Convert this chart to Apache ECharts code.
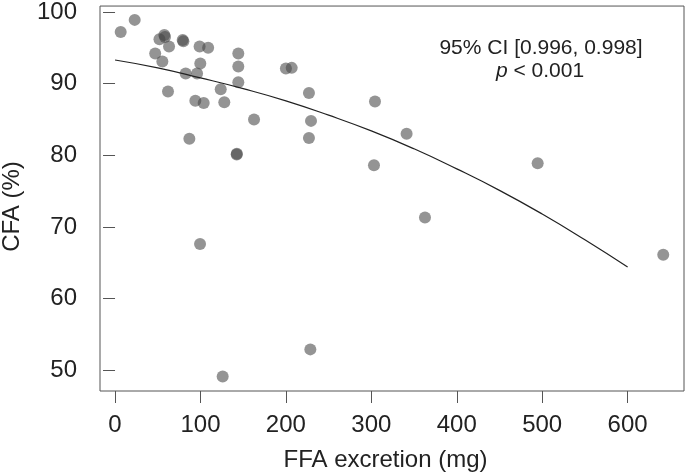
<!DOCTYPE html>
<html>
<head>
<meta charset="utf-8">
<script src="https://cdn.jsdelivr.net/npm/echarts@6/dist/echarts.min.js"></script>
<style>
html,body{margin:0;padding:0;background:#fff;}
#c{width:685px;height:474px;}
</style>
</head>
<body>
<div id="c"></div>
<script>
// FFA excretion (mg) for each subject
var ffa = [6.6, 23, 52, 57.7, 58.5, 63.2, 79.2, 80, 99, 109, 144.3, 47, 55.4, 99.8, 144.3, 82.7, 96, 144.3, 62, 123.7, 94, 103.8, 127.9, 162.7, 87, 142.4, 142.6, 99.5, 126, 200, 206.8, 227, 304.3, 229.4, 227, 341.3, 303.1, 494.7, 362.8, 641.7, 228.6];
// CFA (%) for each subject
var cfa = [97.2, 98.9, 96.2, 96.8, 96.5, 95.2, 96.1, 95.9, 95.2, 95.0, 94.2, 94.2, 93.1, 92.8, 92.4, 91.4, 91.4, 90.2, 88.9, 89.2, 87.6, 87.3, 87.4, 85.0, 82.3, 80.1, 80.2, 67.6, 49.1, 92.1, 92.2, 88.7, 87.5, 84.8, 82.4, 83.0, 78.6, 78.9, 71.3, 66.1, 52.9];
// fitted curve
var curveX = [0, 50, 100, 150, 200, 250, 300, 350, 400, 450, 500, 550, 600];
var curveY = [93.3, 92.2, 90.8, 89.3, 87.6, 85.6, 83.4, 80.9, 78.1, 75.1, 71.8, 68.2, 64.4];
var xTicks = [0, 100, 200, 300, 400, 500, 600];
var yTicks = [50, 60, 70, 80, 90, 100];

var pts = ffa.map(function(v, i){ return [v, cfa[i]]; });
var line = curveX.map(function(v, i){ return [v, curveY[i]]; });

var FONT = 'Liberation Sans, Arial, Helvetica, sans-serif';
var chart = echarts.init(document.getElementById('c'), null, {renderer: 'canvas'});
chart.setOption({
  animation: false,
  backgroundColor: '#fff',
  grid: {left: 100, top: 3, right: 1, bottom: 83, show: true, borderColor: '#555', borderWidth: 1, backgroundColor: 'transparent'},
  xAxis: {
    type: 'value', min: -17.6, max: 666,
    axisLine: {show: false},
    splitLine: {show: false},
    axisTick: {show: true, length: 12, inside: false, customValues: xTicks, lineStyle: {color: '#555', width: 1}},
    axisLabel: {show: true, customValues: xTicks, margin: 22, fontSize: 24, color: '#222', fontFamily: FONT}
  },
  yAxis: {
    type: 'value', min: 47.09, max: 100.83,
    axisLine: {show: false},
    splitLine: {show: false},
    axisTick: {show: true, length: 12, inside: false, customValues: yTicks, lineStyle: {color: '#555', width: 1}},
    axisLabel: {show: true, customValues: yTicks, margin: 23, fontSize: 24, color: '#222', fontFamily: FONT}
  },
  graphic: [
    {type: 'text', x: 385.5, y: 460, style: {text: 'FFA excretion (mg)', font: '24px ' + FONT, fill: '#222', textAlign: 'center', textVerticalAlign: 'middle'}},
    {type: 'text', x: 12, y: 206.5, rotation: Math.PI / 2, style: {text: 'CFA (%)', font: '24px ' + FONT, fill: '#222', textAlign: 'center', textVerticalAlign: 'middle'}},
    {type: 'text', x: 541, y: 48, style: {text: '95% CI [0.996, 0.998]', font: '21px ' + FONT, fill: '#222', textAlign: 'center', textVerticalAlign: 'middle'}},
    {type: 'text', x: 540, y: 71, style: {text: '{i|p} < 0.001', font: '21px ' + FONT, fill: '#222', textAlign: 'center', textVerticalAlign: 'middle',
      rich: {i: {fontStyle: 'italic', fontSize: 21, fontFamily: FONT, fill: '#222'}}}}
  ],
  series: [
    {type: 'line', data: line, smooth: true, showSymbol: false, symbol: 'none', lineStyle: {color: '#222', width: 1.2}, z: 3},
    {type: 'scatter', data: pts, symbolSize: 12, itemStyle: {color: 'rgba(70,70,70,0.72)'}, z: 2}
  ]
});
</script>
</body>
</html>
